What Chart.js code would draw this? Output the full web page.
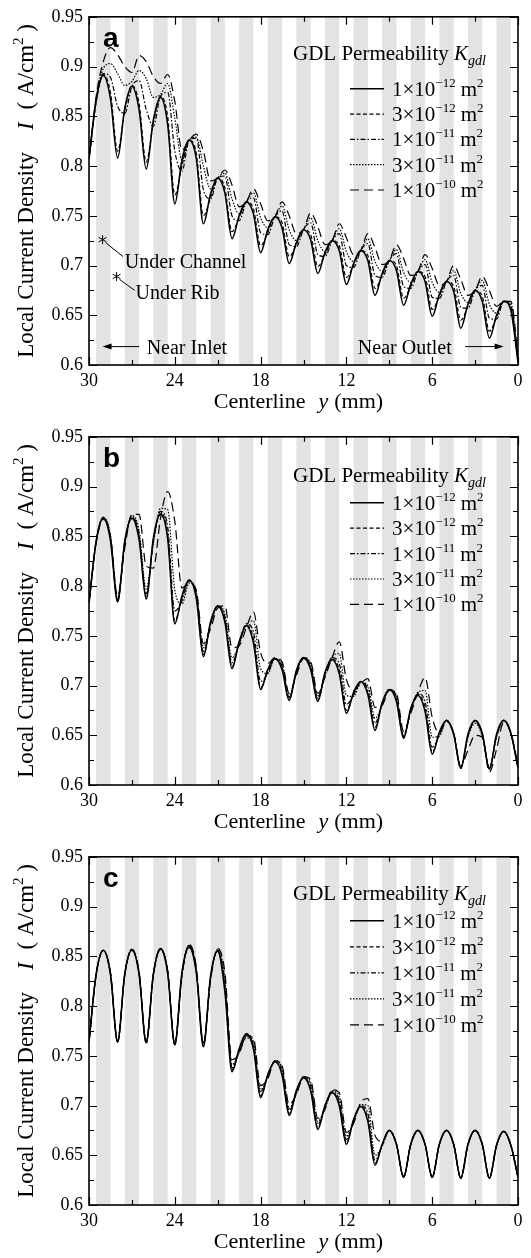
<!DOCTYPE html>
<html>
<head>
<meta charset="utf-8">
<script src="https://cdn.jsdelivr.net/npm/chart.js@4.4.1/dist/chart.umd.min.js"></script>
<style>
html, body { margin: 0; padding: 0; background: #fff; }
canvas { display: block; }
</style>
</head>
<body>
<canvas id="chart-a" width="531" height="420"></canvas>
<canvas id="chart-b" width="531" height="420"></canvas>
<canvas id="chart-c" width="531" height="418"></canvas>
<script>
// centerline position (mm), inlet at 30, outlet at 0
const centerline_mm = [30,29.5,29,28.5,28,27.5,27,26.5,26,25.5,25,24.5,24,23.5,23,22.5,22,21.5,21,20.5,
    20,19.5,19,18.5,18,17.5,17,16.5,16,15.5,15,14.5,14,13.5,13,12.5,12,11.5,11,10.5,
    10,9.5,9,8.5,8,7.5,7,6.5,6,5.5,5,4.5,4,3.5,3,2.5,2,1.5,1,0.5,0];

// grey bands (channel), start of each 1 mm band
const band_start_mm = [0.5,2.5,4.5,6.5,8.5,10.5,12.5,14.5,16.5,18.5,20.5,22.5,24.5,26.5,28.5];
const band_width_mm = 1;

// GDL permeability labels : mantissa x 10^exp m2
const perm_mant = ["1", "3", "1", "3", "1"];
const perm_exp = ["\u221212", "\u221212", "\u221211", "\u221211", "\u221210"];

// panel a
const a_1e12 = [0.807,0.866,0.891,0.868,0.808,0.858,0.880,0.857,0.797,0.846,
    0.869,0.842,0.762,0.806,0.826,0.808,0.742,0.772,0.788,0.773,
    0.727,0.750,0.764,0.752,0.713,0.736,0.749,0.738,0.702,0.723,
    0.736,0.726,0.692,0.713,0.725,0.715,0.681,0.702,0.715,0.705,
    0.670,0.692,0.705,0.695,0.660,0.681,0.694,0.684,0.649,0.671,
    0.684,0.674,0.637,0.661,0.675,0.664,0.627,0.650,0.664,0.655,0.603];
const a_3e12 = [0.807,0.864,0.892,0.874,0.815,0.855,0.881,0.863,0.804,0.843,
    0.870,0.850,0.771,0.800,0.826,0.813,0.750,0.768,0.788,0.778,
    0.734,0.748,0.764,0.757,0.720,0.733,0.749,0.743,0.709,0.721,
    0.736,0.731,0.699,0.711,0.725,0.720,0.688,0.700,0.715,0.710,
    0.677,0.690,0.705,0.700,0.667,0.679,0.694,0.689,0.656,0.669,
    0.684,0.679,0.645,0.659,0.675,0.669,0.634,0.648,0.664,0.657,0.604];
const a_1e11 = [0.807,0.866,0.893,0.889,0.860,0.853,0.880,0.886,0.857,0.840,
    0.870,0.874,0.815,0.795,0.826,0.828,0.776,0.767,0.788,0.790,
    0.750,0.745,0.764,0.768,0.733,0.731,0.749,0.755,0.721,0.719,
    0.736,0.743,0.711,0.709,0.725,0.732,0.700,0.698,0.715,0.722,
    0.690,0.688,0.705,0.712,0.679,0.677,0.694,0.701,0.668,0.667,
    0.684,0.690,0.658,0.657,0.675,0.680,0.647,0.646,0.664,0.660,0.606];
const a_3e11 = [0.807,0.868,0.898,0.903,0.893,0.881,0.885,0.896,0.888,0.869,
    0.872,0.883,0.848,0.806,0.826,0.829,0.800,0.777,0.788,0.793,
    0.767,0.752,0.764,0.773,0.748,0.738,0.749,0.760,0.736,0.725,
    0.736,0.748,0.725,0.714,0.725,0.737,0.714,0.704,0.715,0.727,
    0.704,0.694,0.705,0.716,0.693,0.683,0.694,0.706,0.683,0.673,
    0.684,0.695,0.672,0.663,0.675,0.685,0.661,0.652,0.664,0.662,0.608];
const a_1e10 = [0.807,0.870,0.905,0.919,0.912,0.900,0.894,0.911,0.905,0.890,
    0.883,0.892,0.865,0.816,0.826,0.832,0.815,0.785,0.788,0.796,
    0.781,0.759,0.764,0.777,0.762,0.745,0.749,0.764,0.750,0.732,
    0.736,0.753,0.739,0.721,0.725,0.742,0.728,0.711,0.715,0.732,
    0.718,0.701,0.705,0.721,0.707,0.690,0.694,0.711,0.697,0.680,
    0.684,0.700,0.686,0.670,0.675,0.689,0.675,0.659,0.664,0.664,0.610];

// panel b
const b_1e12 = [0.783,0.845,0.868,0.846,0.784,0.845,0.868,0.847,0.787,0.848,
    0.872,0.848,0.762,0.790,0.806,0.788,0.729,0.764,0.780,0.764,
    0.717,0.744,0.760,0.743,0.696,0.716,0.727,0.716,0.685,0.715,
    0.728,0.716,0.684,0.713,0.726,0.712,0.672,0.693,0.704,0.691,
    0.655,0.683,0.696,0.684,0.647,0.677,0.690,0.674,0.631,0.653,
    0.665,0.651,0.617,0.651,0.665,0.652,0.616,0.651,0.665,0.652,0.617];
const b_3e12 = [0.783,0.845,0.869,0.848,0.785,0.844,0.869,0.849,0.789,0.846,
    0.873,0.853,0.765,0.788,0.806,0.790,0.731,0.763,0.780,0.766,
    0.719,0.743,0.761,0.747,0.698,0.714,0.727,0.718,0.686,0.714,
    0.728,0.718,0.685,0.712,0.727,0.716,0.675,0.692,0.704,0.693,
    0.658,0.682,0.696,0.686,0.648,0.676,0.691,0.678,0.633,0.652,
    0.665,0.652,0.617,0.650,0.665,0.652,0.617,0.650,0.665,0.652,0.617];
const b_1e11 = [0.783,0.845,0.869,0.850,0.786,0.843,0.870,0.852,0.792,0.845,
    0.875,0.860,0.775,0.785,0.805,0.792,0.734,0.762,0.780,0.769,
    0.723,0.742,0.762,0.754,0.704,0.712,0.727,0.720,0.688,0.713,
    0.728,0.720,0.687,0.711,0.728,0.722,0.681,0.690,0.704,0.696,
    0.662,0.681,0.696,0.688,0.649,0.675,0.692,0.684,0.638,0.650,
    0.665,0.652,0.617,0.649,0.664,0.650,0.617,0.649,0.665,0.652,0.617];
const b_3e11 = [0.783,0.845,0.869,0.851,0.787,0.842,0.871,0.856,0.797,0.843,
    0.878,0.877,0.796,0.782,0.803,0.794,0.738,0.761,0.780,0.772,
    0.728,0.741,0.762,0.765,0.717,0.712,0.727,0.722,0.689,0.712,
    0.728,0.722,0.689,0.710,0.729,0.732,0.690,0.689,0.703,0.700,
    0.667,0.680,0.696,0.690,0.650,0.674,0.693,0.695,0.648,0.649,
    0.665,0.652,0.617,0.648,0.662,0.649,0.617,0.648,0.665,0.652,0.618];
const b_1e10 = [0.783,0.843,0.867,0.850,0.790,0.838,0.872,0.872,0.820,0.818,
    0.868,0.895,0.865,0.798,0.803,0.796,0.742,0.757,0.778,0.780,
    0.738,0.740,0.758,0.774,0.733,0.722,0.728,0.724,0.692,0.710,
    0.727,0.724,0.692,0.708,0.728,0.744,0.706,0.695,0.702,0.707,
    0.678,0.680,0.695,0.692,0.654,0.672,0.693,0.708,0.668,0.652,
    0.664,0.652,0.619,0.635,0.650,0.648,0.613,0.636,0.663,0.653,0.620];

// panel c
const c_1e12 = [0.764,0.832,0.856,0.832,0.764,0.832,0.856,0.832,0.763,0.832,
    0.857,0.833,0.761,0.834,0.859,0.834,0.759,0.830,0.855,0.815,
    0.734,0.757,0.772,0.757,0.708,0.731,0.744,0.731,0.690,0.715,
    0.728,0.715,0.676,0.700,0.713,0.700,0.661,0.686,0.699,0.684,
    0.640,0.661,0.675,0.661,0.628,0.661,0.675,0.661,0.628,0.661,
    0.675,0.661,0.627,0.661,0.675,0.661,0.627,0.660,0.674,0.660,0.628];
const c_3e12 = [0.764,0.832,0.856,0.832,0.764,0.832,0.856,0.833,0.763,0.832,
    0.857,0.834,0.761,0.833,0.860,0.835,0.760,0.829,0.856,0.818,
    0.736,0.756,0.772,0.759,0.710,0.730,0.744,0.733,0.692,0.714,
    0.728,0.717,0.678,0.699,0.713,0.702,0.663,0.685,0.699,0.687,
    0.642,0.660,0.675,0.661,0.628,0.661,0.675,0.661,0.628,0.661,
    0.675,0.661,0.627,0.661,0.675,0.661,0.627,0.660,0.674,0.660,0.628];
const c_1e11 = [0.764,0.832,0.856,0.833,0.764,0.832,0.857,0.833,0.763,0.832,
    0.858,0.835,0.761,0.832,0.861,0.836,0.761,0.828,0.856,0.824,
    0.738,0.754,0.768,0.762,0.714,0.729,0.745,0.736,0.695,0.713,
    0.728,0.720,0.681,0.698,0.714,0.705,0.666,0.684,0.700,0.692,
    0.645,0.660,0.675,0.661,0.628,0.661,0.675,0.661,0.628,0.661,
    0.675,0.661,0.627,0.661,0.675,0.661,0.627,0.660,0.674,0.660,0.628];
const c_3e11 = [0.764,0.832,0.856,0.833,0.764,0.832,0.857,0.834,0.763,0.832,
    0.858,0.835,0.762,0.831,0.861,0.837,0.762,0.828,0.857,0.828,
    0.741,0.753,0.771,0.764,0.716,0.728,0.745,0.738,0.697,0.712,
    0.729,0.723,0.684,0.697,0.715,0.709,0.669,0.683,0.701,0.700,
    0.650,0.659,0.675,0.661,0.628,0.661,0.675,0.661,0.628,0.661,
    0.675,0.661,0.627,0.661,0.675,0.661,0.627,0.660,0.674,0.660,0.628];
const c_1e10 = [0.764,0.831,0.856,0.834,0.764,0.831,0.857,0.835,0.763,0.831,
    0.857,0.836,0.762,0.830,0.862,0.840,0.763,0.826,0.858,0.834,
    0.746,0.752,0.770,0.768,0.720,0.727,0.745,0.740,0.701,0.711,
    0.729,0.726,0.687,0.696,0.716,0.713,0.673,0.682,0.703,0.707,
    0.670,0.664,0.675,0.661,0.629,0.661,0.675,0.661,0.628,0.661,
    0.675,0.661,0.627,0.660,0.675,0.661,0.627,0.660,0.674,0.660,0.628];

const serif = "'Liberation Serif', 'Times New Roman', serif";
Chart.defaults.font.family = serif;
Chart.defaults.font.size = 18;
Chart.defaults.color = "#000";

const dash_styles = [[], [4, 2.5], [5, 2, 1.5, 2], [1.5, 1.5], [9, 5]];

// draw a row of text pieces (gap = blank space in px)
const parts_width = (ctx, parts) => {
    let w = 0;
    for (const p of parts) {
        if (p.gap) { w += p.gap; continue; }
        ctx.font = p.font;
        w += ctx.measureText(p.text).width;
    }
    return w;
};
const draw_parts = (ctx, parts, x, y) => {
    for (const p of parts) {
        if (p.gap) { x += p.gap; continue; }
        ctx.font = p.font;
        ctx.fillText(p.text, x, y + (p.dy || 0));
        x += ctx.measureText(p.text).width;
    }
    return x;
};

const draw_star = (ctx, cx, cy, r) => {
    ctx.beginPath();
    for (let k = 0; k < 3; k++) {
        const ang = Math.PI / 2 + k * Math.PI / 3;
        ctx.moveTo(cx - r * Math.cos(ang), cy - r * Math.sin(ang));
        ctx.lineTo(cx + r * Math.cos(ang), cy + r * Math.sin(ang));
    }
    ctx.stroke();
};

const draw_arrow = (ctx, x1, x2, y) => {
    // arrow from x1 to x2 with head at x2
    const dir = x2 > x1 ? 1 : -1;
    ctx.beginPath();
    ctx.moveTo(x1, y);
    ctx.lineTo(x2 - dir * 6, y);
    ctx.stroke();
    ctx.beginPath();
    ctx.moveTo(x2, y);
    ctx.lineTo(x2 - dir * 9, y - 3);
    ctx.lineTo(x2 - dir * 9, y + 3);
    ctx.closePath();
    ctx.fill();
};

const panel_plugin = {
    id: "panel",
    beforeDatasetsDraw(chart) {
        const { ctx, chartArea: area, scales: { x } } = chart;
        ctx.save();
        ctx.fillStyle = "#e3e3e3";
        for (const s of band_start_mm) {
            const p1 = x.getPixelForValue(s);
            const p2 = x.getPixelForValue(s + band_width_mm);
            ctx.fillRect(Math.min(p1, p2), area.top, Math.abs(p2 - p1), area.bottom - area.top);
        }
        ctx.restore();
    },
    afterDatasetsDraw(chart) {
        const { ctx, chartArea: area, scales: { x, y } } = chart;
        ctx.save();
        ctx.strokeStyle = "#000";
        ctx.lineWidth = 1.2;
        ctx.beginPath();
        for (let v = 0; v <= 30; v += 3) {
            const px = Math.round(x.getPixelForValue(v)) + 0.5;
            const len = v % 6 === 0 ? 8 : 5;
            ctx.moveTo(px, area.bottom);
            ctx.lineTo(px, area.bottom - len);
            ctx.moveTo(px, area.top);
            ctx.lineTo(px, area.top + len);
        }
        for (let i = 0; i <= 14; i++) {
            const py = Math.round(y.getPixelForValue(0.6 + i * 0.025)) + 0.5;
            const len = i % 2 === 0 ? 8 : 5;
            ctx.moveTo(area.left, py);
            ctx.lineTo(area.left + len, py);
            ctx.moveTo(area.right, py);
            ctx.lineTo(area.right - len, py);
        }
        ctx.stroke();
        ctx.lineWidth = 1.6;
        ctx.strokeRect(area.left, area.top, area.right - area.left, area.bottom - area.top);
        ctx.restore();
    },
    afterDraw(chart, args, opts) {
        const { ctx, chartArea: area, scales: { x, y } } = chart;
        ctx.save();
        ctx.fillStyle = "#000";
        ctx.strokeStyle = "#000";
        ctx.textBaseline = "alphabetic";

        // panel letter
        ctx.font = "bold 28px 'Liberation Sans', Arial, sans-serif";
        ctx.fillText(opts.letter, area.left + 14, area.top + 30);

        // x title
        const f22 = "22px " + serif;
        const i22 = "italic 22px " + serif;
        const xt = [
            { text: "Centerline", font: f22 }, { gap: 13 },
            { text: "y", font: i22 }, { gap: 6 },
            { text: "(mm)", font: f22 }
        ];
        const xw = parts_width(ctx, xt);
        draw_parts(ctx, xt, (area.left + area.right) / 2 - 5 - xw / 2, area.bottom + 43);

        // y title
        const f23 = "23px " + serif;
        const i23 = "italic 23px " + serif;
        const yt = [
            { text: "Local Current Density", font: f23 }, { gap: 22 },
            { text: "I", font: i23 }, { gap: 13 },
            { text: "( A/cm", font: f23 },
            { text: "2", font: "15px " + serif, dy: -10 },
            { text: " )", font: f23 }
        ];
        const yw = parts_width(ctx, yt);
        ctx.save();
        ctx.translate(33, (area.top + area.bottom) / 2);
        ctx.rotate(-Math.PI / 2);
        draw_parts(ctx, yt, -yw / 2, 0);
        ctx.restore();

        // legend
        const lg = opts.legend;
        const f21 = "21px " + serif;
        const i21 = "italic 21px " + serif;
        draw_parts(ctx, [
            { text: "GDL Permeability ", font: f21 },
            { text: "K", font: i21 },
            { text: "gdl", font: "italic 14px " + serif, dy: 5 }
        ], area.right - 225, area.top + lg.title_dy);
        chart.data.datasets.forEach((ds, i) => {
            const cy = area.top + lg.row_dy + i * lg.row_gap;
            ctx.save();
            ctx.lineWidth = ds.borderWidth;
            ctx.setLineDash(ds.borderDash);
            ctx.beginPath();
            ctx.moveTo(area.right - 168, cy);
            ctx.lineTo(area.right - 134, cy);
            ctx.stroke();
            ctx.restore();
            draw_parts(ctx, [
                { text: perm_mant[i] + "\u00d710", font: f21 },
                { text: perm_exp[i], font: "13px " + serif, dy: -9 },
                { gap: 5 },
                { text: "m", font: f21 },
                { text: "2", font: "13px " + serif, dy: -9 }
            ], area.right - 126, cy + 7);
        });

        // annotations (panel a)
        if (opts.notes) {
            const f20 = "20px " + serif;
            ctx.lineWidth = 1;
            const ch = { x: x.getPixelForValue(29.05), y: y.getPixelForValue(0.726) };
            draw_star(ctx, ch.x, ch.y, 4.5);
            ctx.beginPath();
            ctx.moveTo(ch.x + 3, ch.y + 3);
            ctx.lineTo(x.getPixelForValue(27.62), y.getPixelForValue(0.709));
            ctx.stroke();
            ctx.font = f20;
            ctx.fillText("Under Channel", x.getPixelForValue(27.5), y.getPixelForValue(0.698));

            const rb = { x: x.getPixelForValue(28.07), y: y.getPixelForValue(0.689) };
            draw_star(ctx, rb.x, rb.y, 4.5);
            ctx.beginPath();
            ctx.moveTo(rb.x + 3, rb.y + 3);
            ctx.lineTo(x.getPixelForValue(26.8), y.getPixelForValue(0.675));
            ctx.stroke();
            ctx.fillText("Under Rib", x.getPixelForValue(26.74), y.getPixelForValue(0.666));

            const ay = y.getPixelForValue(0.6185);
            draw_arrow(ctx, x.getPixelForValue(26.5), x.getPixelForValue(29.05), ay);
            ctx.fillText("Near Inlet", x.getPixelForValue(25.97), y.getPixelForValue(0.611));
            draw_arrow(ctx, x.getPixelForValue(3.7), x.getPixelForValue(1.0), ay);
            ctx.fillText("Near Outlet", x.getPixelForValue(11.2), y.getPixelForValue(0.611));
        }
        ctx.restore();
    }
};

const make_chart = (id, letter, series, legend, notes, height) => {
    const ctx = document.getElementById(id);
    return new Chart(ctx, {
        type: "line",
        data: {
            datasets: series.map((values, i) => ({
                label: perm_mant[i] + "\u00d710" + perm_exp[i] + " m2",
                data: centerline_mm.map((mm, j) => ({ x: mm, y: values[j] })),
                borderColor: "#000",
                borderWidth: i === 0 ? 1.6 : 1.2,
                borderDash: dash_styles[i],
                pointRadius: 0,
                fill: false,
                cubicInterpolationMode: "monotone",
            })),
        },
        options: {
            responsive: false,
            animation: false,
            layout: { padding: { top: 15, right: 13, left: 0, bottom: 0 } },
            plugins: {
                legend: { display: false },
                tooltip: { enabled: false },
                panel: { letter: letter, legend: legend, notes: notes },
            },
            scales: {
                x: {
                    type: "linear",
                    reverse: true,
                    min: 0,
                    max: 30,
                    grid: { display: false, drawTicks: false },
                    border: { display: false },
                    ticks: { stepSize: 6, padding: 5, maxRotation: 0, autoSkip: false },
                    afterFit: (s) => { s.height = height - 15 - 350; },
                },
                y: {
                    min: 0.6,
                    max: 0.95,
                    grid: { display: false, drawTicks: false },
                    border: { display: false },
                    ticks: { stepSize: 0.05, padding: 6, callback: (v) => String(+v.toFixed(2)) },
                    afterFit: (s) => { s.width = 89; },
                },
            },
        },
        plugins: [panel_plugin],
    });
};

make_chart("chart-a", "a", [a_1e12, a_3e12, a_1e11, a_3e11, a_1e10],
    { title_dy: 43, row_dy: 72, row_gap: 25.3 }, true, 420);
make_chart("chart-b", "b", [b_1e12, b_3e12, b_1e11, b_3e11, b_1e10],
    { title_dy: 45, row_dy: 66, row_gap: 25.4 }, false, 420);
make_chart("chart-c", "c", [c_1e12, c_3e12, c_1e11, c_3e11, c_1e10],
    { title_dy: 43, row_dy: 64, row_gap: 26 }, false, 418);
</script>
</body>
</html>
